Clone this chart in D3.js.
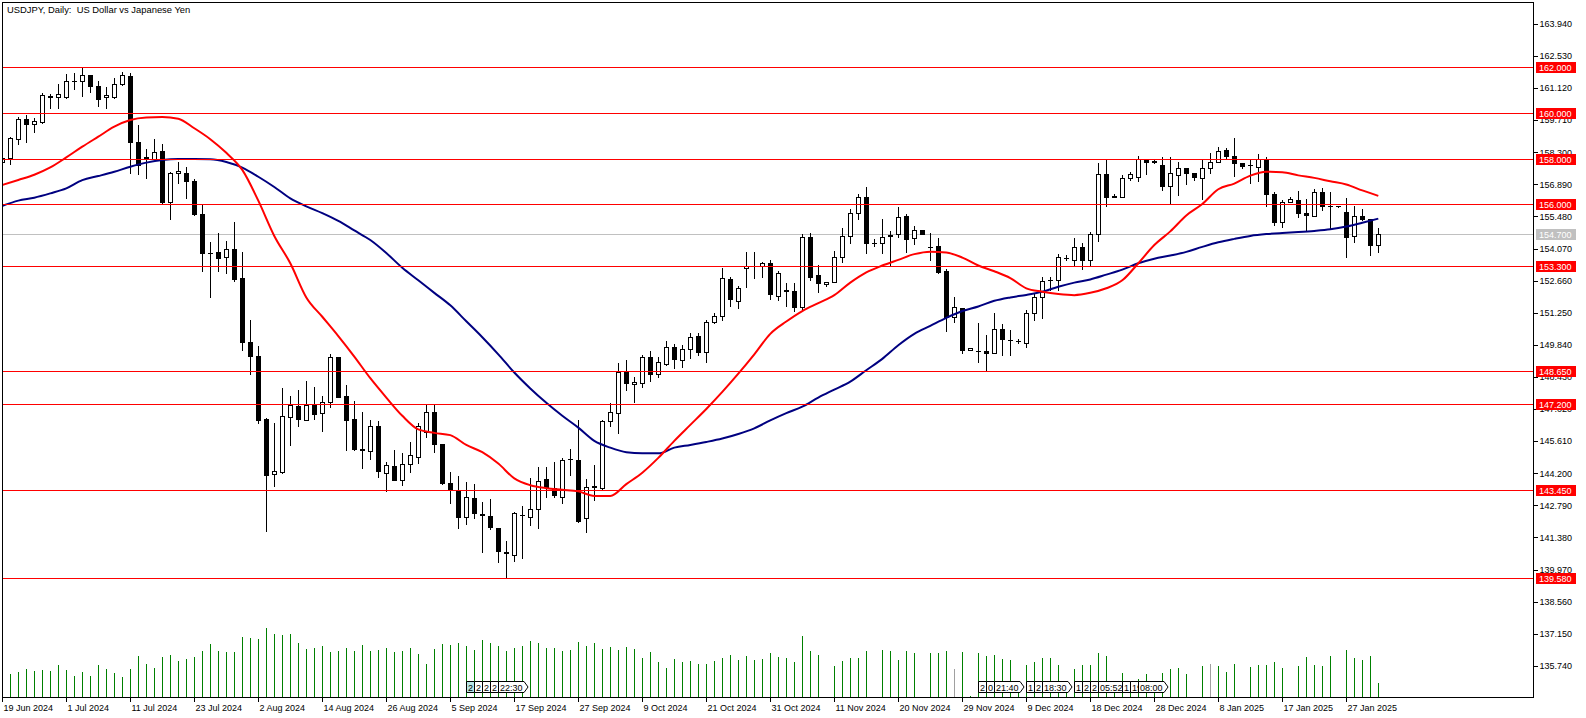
<!DOCTYPE html>
<html><head><meta charset="utf-8">
<script src="https://cdn.jsdelivr.net/npm/d3@7"></script>
<style>
html,body{margin:0;padding:0;background:#fff;overflow:hidden;}
svg{display:block;font-family:"Liberation Sans",Arial,sans-serif;}
text{white-space:pre;}
</style></head><body>
<svg id="c" width="1586" height="718"></svg>
<script>
// ---- data ----
const title = "USDJPY, Daily:  US Dollar vs Japanese Yen";
const opens = [157.84,158.04,158.87,159.74,159.53,159.61,160.76,160.69,160.72,161.39,161.39,161.65,161.19,160.69,160.72,161.26,161.63,158.73,158.03,157.99,158.33,156.11,157.35,157.35,157.00,155.57,153.87,153.90,153.66,154.01,152.74,149.93,149.31,146.55,144.13,144.25,146.65,147.12,146.53,147.18,146.81,147.29,149.27,147.56,146.55,145.22,145.14,146.24,144.18,144.50,143.90,144.57,144.91,145.99,146.85,145.45,143.74,143.44,142.24,143.08,142.37,142.30,141.76,140.70,140.59,142.33,142.24,142.60,143.91,143.52,143.15,144.78,144.76,142.20,143.59,143.52,146.47,146.81,148.68,148.09,148.13,149.30,148.54,148.99,149.72,149.15,149.62,150.20,149.49,150.81,151.07,152.70,151.74,153.18,153.28,153.30,153.40,151.98,152.20,152.18,151.50,154.54,152.87,152.50,152.59,153.66,154.60,155.60,156.30,154.30,154.28,154.58,154.67,155.48,154.50,154.85,154.13,154.16,153.06,151.06,151.42,149.59,149.56,149.55,149.45,150.50,150.05,150.00,149.88,151.20,151.93,152.65,152.67,153.65,153.54,154.13,153.54,154.67,157.31,156.34,156.30,157.13,157.20,157.97,157.87,157.72,156.81,157.28,157.60,157.35,157.13,157.60,157.86,158.37,158.11,157.79,157.70,157.64,157.97,156.44,155.20,156.11,156.18,155.60,155.49,156.55,155.93,155.92,155.64,154.58,155.49,155.33,154.22];
const highs = [158.08,158.95,159.81,159.91,159.77,160.86,160.85,161.27,161.71,161.74,162.00,161.66,161.39,161.14,161.52,161.80,161.74,159.47,158.42,158.86,158.64,157.39,157.85,157.63,157.10,155.97,154.32,154.72,154.38,155.20,153.90,150.91,149.77,146.61,146.37,147.91,147.57,147.82,148.22,147.97,147.56,149.40,149.30,148.06,147.35,146.87,146.52,146.47,144.66,145.20,145.05,145.54,146.39,147.18,147.18,145.45,144.22,144.06,143.78,143.69,142.93,143.05,141.76,141.19,142.46,142.74,143.95,144.47,144.47,144.66,144.83,145.23,146.52,143.91,144.54,146.52,147.25,149.01,149.15,148.42,149.37,149.55,149.30,149.99,149.86,149.81,150.35,150.32,150.91,151.20,153.18,152.81,152.42,153.91,153.91,153.47,153.54,153.08,152.55,152.52,154.69,154.72,153.32,152.59,153.94,154.94,155.79,156.44,156.74,154.45,155.33,154.82,155.86,155.56,155.04,154.85,154.72,154.50,153.13,151.93,151.42,149.69,150.76,150.25,151.20,150.72,150.47,150.06,151.35,152.08,152.81,152.81,153.81,153.76,154.50,154.31,154.79,157.82,157.94,156.43,157.28,157.42,158.13,157.97,157.94,158.05,158.05,157.83,157.60,157.35,157.97,158.23,158.52,158.45,158.89,157.79,157.97,158.20,158.05,156.55,156.18,156.30,156.59,156.22,156.65,156.69,156.55,155.93,156.25,155.93,155.77,155.33,154.93];
const lows = [157.80,157.78,158.65,158.73,159.18,159.56,160.23,160.23,160.67,161.04,160.76,160.94,160.32,160.23,160.67,161.22,157.38,157.34,157.16,157.99,156.06,155.36,156.94,156.28,155.50,153.08,151.93,153.08,152.99,152.64,149.61,148.52,146.40,141.66,143.61,144.20,145.42,146.26,146.50,146.56,146.05,147.07,147.54,145.19,145.19,144.42,144.82,144.03,143.41,143.88,143.66,144.22,144.64,145.79,145.10,143.69,142.86,141.76,141.94,142.23,140.71,141.72,140.27,139.56,140.30,140.44,141.90,141.75,143.15,143.15,142.89,144.10,142.05,141.61,143.00,143.44,146.25,145.93,147.84,147.32,147.98,148.24,148.39,148.93,148.82,148.86,149.23,149.37,149.08,150.79,150.91,151.52,151.45,152.37,152.74,152.78,151.82,151.79,151.52,151.30,151.38,152.67,152.12,152.40,152.59,153.47,154.31,155.33,153.84,154.16,153.84,153.32,154.57,153.91,154.25,154.67,153.55,152.99,150.44,150.84,149.45,149.59,149.08,148.71,149.45,149.37,149.37,149.91,149.70,150.91,150.98,152.23,152.23,153.55,153.33,153.14,153.33,154.39,155.92,156.32,156.30,157.06,157.03,157.32,157.79,156.62,156.00,156.40,156.88,157.06,156.22,157.35,157.86,158.01,157.23,157.57,156.91,157.03,155.92,155.08,154.98,156.11,155.42,154.82,155.49,155.74,154.93,155.88,153.69,154.35,155.30,153.76,153.91];
const closes = [158.04,158.89,159.74,159.53,159.65,160.79,160.72,160.82,161.39,161.41,161.65,161.20,160.63,160.79,161.26,161.65,158.74,157.70,158.07,158.27,156.11,157.35,157.45,157.00,155.55,153.84,153.86,153.65,154.01,152.72,149.93,149.34,146.50,144.12,144.26,146.68,147.16,146.58,147.16,146.80,147.29,149.27,147.54,146.53,145.22,145.21,146.24,144.29,144.53,143.90,144.57,144.97,146.23,146.85,145.45,143.74,143.44,142.24,143.12,142.42,142.35,141.80,140.78,140.68,142.42,142.34,142.60,143.82,143.59,143.21,144.76,144.79,142.08,143.59,143.60,146.47,146.88,148.63,148.16,148.17,149.30,148.54,149.05,149.74,149.18,149.62,150.18,149.48,150.81,151.07,152.74,151.82,152.30,153.28,153.29,153.40,152.04,152.96,152.21,151.49,154.54,152.81,152.52,152.59,153.66,154.60,155.60,156.30,154.28,154.31,154.57,154.66,155.45,154.48,154.85,154.67,154.12,153.03,151.06,151.47,149.59,149.69,149.55,149.45,150.50,150.06,150.03,150.00,151.20,151.90,152.62,152.68,153.66,153.63,154.13,153.54,154.67,157.31,156.33,156.32,157.13,157.32,157.97,157.86,157.86,156.81,157.35,157.60,157.35,157.20,157.60,157.86,158.35,158.11,157.79,157.69,157.71,157.97,156.44,155.20,156.11,156.22,155.59,155.50,156.55,155.93,155.92,155.90,154.57,155.49,155.33,154.22,154.70];
// tick volume (thousands)
const volumes = [22,23,25,28,26,27,26,32,27,21,25,21,32,28,24,20,28,41,33,29,40,42,36,38,40,46,53,46,45,45,60,59,58,69,63,62,63,54,48,49,51,45,46,49,46,52,46,47,49,45,46,49,43,33,48,53,52,54,51,47,57,54,51,46,49,51,56,54,49,49,46,47,55,51,54,48,50,47,50,48,39,45,35,29,38,35,36,33,33,36,39,42,37,41,37,38,44,40,39,35,61,46,42,0.3,31,36,39,39,46,0.3,47,46,37,46,44,0.3,44,44,46,28,45,1.3,44,41,42,38,37,8,32,35,39,39,32,8,28,32,32,44,41,5,24,14,18,23,10,24,28,29,23,0.3,31,33,31,25,33,0.3,30,32,32,35,29,0.3,31,40,32,31,41,0.3,47,39,37,41,14];
const greyVolumeBars = [119, 151];

const fastMAIdx = [0,2,4,6,8,10,12,14,16,18,20,22,24,26,28,30,32,34,36,38,40,42,44,46,48,50,52,54,56,58,60,62,64,66,68,70,72,74,76,78,80,82,84,86,88,90,92,94,96,98,100,102,104,106,108,110,112,114,116,118,120,122,124,126,128,130,132,134,136,138,140,142,144,146,148,150,152,154,156,158,160,162,164,166,168,170,172];
const fastMA = [156.84,157.06,157.29,157.61,158.05,158.52,158.96,159.40,159.69,159.80,159.82,159.75,159.33,158.85,158.25,157.5,156.15,154.6,153.4,151.9,151.05,150.2,149.3,148.35,147.5,146.7,146.1,145.95,145.85,145.42,145.1,144.6,143.95,143.65,143.52,143.45,143.38,143.18,143.18,143.7,144.2,144.85,145.6,146.3,147.0,147.75,148.55,149.4,150.3,150.84,151.3,151.65,152.0,152.55,153.0,153.3,153.55,153.8,153.91,153.87,153.65,153.3,153.05,152.75,152.3,152.15,152.05,152.0,152.1,152.3,152.65,153.4,154.2,154.8,155.5,156.0,156.65,156.9,157.25,157.42,157.4,157.26,157.15,157.0,156.86,156.6,156.36];
const slowMAIdx = fastMAIdx;
const slowMA = [155.92,156.15,156.28,156.47,156.69,157.05,157.23,157.42,157.64,157.82,157.94,157.98,157.98,157.97,157.85,157.6,157.2,156.75,156.25,155.9,155.6,155.26,154.84,154.42,153.85,153.2,152.65,152.1,151.55,150.85,150.15,149.4,148.6,147.9,147.27,146.7,146.18,145.6,145.3,145.1,145.05,145.05,145.3,145.42,145.55,145.7,145.9,146.15,146.5,146.82,147.1,147.5,147.85,148.2,148.7,149.2,149.8,150.3,150.65,151.0,151.3,151.5,151.75,151.9,152.01,152.15,152.37,152.55,152.69,152.9,153.12,153.4,153.6,153.74,153.9,154.12,154.32,154.47,154.6,154.68,154.73,154.77,154.82,154.89,155.01,155.18,155.36];

const priceTicks = [163.94,162.53,161.12,159.71,158.30,156.89,155.48,154.07,152.66,151.25,149.84,148.43,147.02,145.61,144.20,142.79,141.38,139.97,138.56,137.15,135.74];
const levels = [162.0,160.0,158.0,156.0,153.3,148.65,147.2,143.45,139.58];
const currentPrice = 154.7;

const dateLabelIdx = [0,8,16,24,32,40,48,56,64,72,80,88,96,104,112,120,128,136,144,152,160,168];
const dateLabels = ["19 Jun 2024","1 Jul 2024","11 Jul 2024","23 Jul 2024","2 Aug 2024","14 Aug 2024","26 Aug 2024","5 Sep 2024","17 Sep 2024","27 Sep 2024","9 Oct 2024","21 Oct 2024","31 Oct 2024","11 Nov 2024","20 Nov 2024","29 Nov 2024","9 Dec 2024","18 Dec 2024","28 Dec 2024","8 Jan 2025","17 Jan 2025","27 Jan 2025"];

const eventIdx = [58,59,60,61,62,122,123,124,128,129,130,134,135,136,137,140,141,142];
const eventText = ["2","2","2","2","22:30","2","0","21:40","1","2","18:30","1","2","2","05:52","1","19:","08:00"];
const eventHighlighted = [58];

// ---- drawing ----
const svg = d3.select("#c");
const plotL = 2, plotR = 1533, plotT = 2, plotB = 697;
const x = d3.scaleLinear().domain([0, 172]).range([2.3, 1378.3]);
const y = d3.scaleLinear().domain([135.74, 163.94]).range([665.3, 23.3]);
const yv = d3.scaleLinear().domain([0, 100]).range([697, 597]);

svg.append("rect").attr("width",1586).attr("height",718).attr("fill","#fff");

svg.append("defs").append("clipPath").attr("id","plot")
  .append("rect").attr("x",plotL+1).attr("y",plotT+1).attr("width",plotR-plotL-1).attr("height",plotB-plotT-1);

const g = svg.append("g").attr("clip-path","url(#plot)");
const px = k => Math.round(x(k));
const py = v => Math.round(y(v));

// volumes
g.append("g").selectAll("rect").data(volumes).join("rect")
  .attr("x",(d,i)=>px(i)).attr("width",1)
  .attr("y",d=>Math.round(yv(d))).attr("height",d=>Math.max(0, 697-Math.round(yv(d))))
  .attr("fill",(d,i)=>greyVolumeBars.includes(i)?"#a0a0a0":"#008000")
  .attr("shape-rendering","crispEdges");

// current price line
g.append("line").attr("x1",plotL).attr("x2",plotR)
  .attr("y1",py(currentPrice)+0.5).attr("y2",py(currentPrice)+0.5)
  .attr("stroke","#c0c0c0").attr("stroke-width",1).attr("shape-rendering","crispEdges");

// candles
const cg = g.append("g").attr("shape-rendering","crispEdges");
opens.forEach((o,i)=>{
  const c = closes[i], h = highs[i], l = lows[i];
  const xc = px(i);
  cg.append("line").attr("x1",xc+0.5).attr("x2",xc+0.5)
    .attr("y1",py(h)).attr("y2",py(l)+1).attr("stroke","#000").attr("stroke-width",1);
  const yt = py(Math.max(o,c)), yb = py(Math.min(o,c));
  if (yb - yt < 1) {
    cg.append("line").attr("x1",xc-2).attr("x2",xc+3).attr("y1",yt+0.5).attr("y2",yt+0.5)
      .attr("stroke","#000").attr("stroke-width",1);
  } else {
    cg.append("rect").attr("x",xc-1.5).attr("y",yt+0.5).attr("width",4).attr("height",yb-yt)
      .attr("fill", c>=o ? "#fff" : "#000").attr("stroke","#000").attr("stroke-width",1);
  }
});

// moving averages
const line = d3.line().x(d=>x(d[0])).y(d=>y(d[1])).curve(d3.curveMonotoneX);
g.append("path").datum(slowMAIdx.map((k,i)=>[k,slowMA[i]]))
  .attr("d",line).attr("fill","none").attr("stroke","#000080").attr("stroke-width",2);
g.append("path").datum(fastMAIdx.map((k,i)=>[k,fastMA[i]]))
  .attr("d",line).attr("fill","none").attr("stroke","#ff0000").attr("stroke-width",2);

// horizontal levels
g.append("g").selectAll("line").data(levels).join("line")
  .attr("x1",plotL).attr("x2",plotR)
  .attr("y1",d=>py(d)+0.5).attr("y2",d=>py(d)+0.5)
  .attr("stroke","#ff0000").attr("stroke-width",1).attr("shape-rendering","crispEdges");

// frame
svg.append("rect").attr("x",plotL+0.5).attr("y",plotT+0.5).attr("width",plotR-plotL).attr("height",plotB-plotT)
  .attr("fill","none").attr("stroke","#000").attr("stroke-width",1).attr("shape-rendering","crispEdges");

// price axis
const yAxis = d3.axisRight(y).tickValues(priceTicks).tickSize(4).tickPadding(2).tickFormat(d3.format(".3f"));
const ya = svg.append("g").attr("transform",`translate(${plotR+0.5},0.5)`).call(yAxis);
ya.select(".domain").remove();
ya.selectAll(".tick line").attr("stroke","#000").attr("shape-rendering","crispEdges");
ya.selectAll(".tick text").attr("font-family","Liberation Sans, Arial, sans-serif").attr("font-size","9px").attr("fill","#000");

// level labels
const lv = svg.append("g");
levels.concat([currentPrice]).forEach((v,i)=>{
  const yy = py(v)+0.5;
  const cur = i===levels.length;
  lv.append("rect").attr("x",1536).attr("y",yy-5.5).attr("width",40).attr("height",11)
    .attr("fill", cur ? "#c0c0c0" : "#ff0000").attr("shape-rendering","crispEdges");
  lv.append("text").attr("x",1539).attr("y",yy).attr("dy","0.35em")
    .attr("font-size","9px").attr("fill","#fff").text(d3.format(".3f")(v));
});

// time axis
const xAxis = d3.axisBottom(x).tickValues(dateLabelIdx).tickSize(4).tickFormat((d,i)=>dateLabels[i]);
const xa = svg.append("g").attr("transform",`translate(0.5,${plotB+0.5})`).call(xAxis);
xa.select(".domain").remove();
xa.selectAll(".tick").attr("transform",d=>`translate(${px(d)},0)`);
xa.selectAll(".tick line").attr("stroke","#000").attr("shape-rendering","crispEdges");
xa.selectAll(".tick text").attr("text-anchor","start").attr("x",1).attr("y",7).attr("dy","0.71em")
  .attr("font-family","Liberation Sans, Arial, sans-serif").attr("font-size","9px").attr("fill","#000");

// event markers on time axis
const eg = svg.append("g").attr("font-size","9px");
const measure = svg.append("text").attr("font-size","9px").attr("visibility","hidden");
eventIdx.forEach((k,i)=>{
  const x0 = px(k) + 0.5;
  measure.text(eventText[i]);
  const tw = measure.node().getComputedTextLength();
  let w = tw + 3;
  let arrow = eventText[i].length > 3;
  if (i+1 < eventIdx.length && px(eventIdx[i+1]) + 0.5 < x0 + w + (arrow?4:0)) {
    w = px(eventIdx[i+1]) + 0.5 - x0; arrow = false;
  }
  const y0 = 681.5, y1 = 692.5;
  const fill = eventHighlighted.includes(k) ? "#b8e6e6" : "#fff";
  let d = `M${x0},${y0}H${x0+w}`;
  if (arrow) d += `L${x0+w+4},${(y0+y1)/2}`;
  d += `L${x0+w},${y1}H${x0}Z`;
  eg.append("path").attr("d",d).attr("fill",fill).attr("stroke","#000").attr("stroke-width",1);
  eg.append("text").attr("x",x0+1.5).attr("y",690.5).attr("fill","#000").text(eventText[i]);
});
measure.remove();

// title
svg.append("text").attr("x",7).attr("y",13).attr("font-size","9.4px").attr("fill","#000").text(title);
</script>
</body></html>
